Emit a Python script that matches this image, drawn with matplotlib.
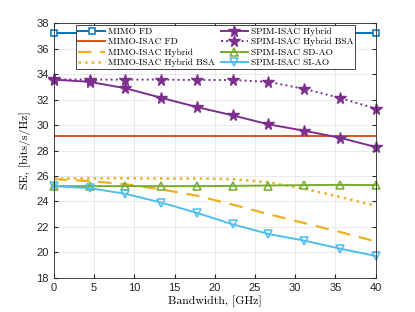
import numpy as np
import matplotlib
matplotlib.use("Agg")
from matplotlib import pyplot as plt

bandwidth = np.linspace(0, 40, 10)

mimo_fd = [37.25] * 10
mimo_isac_fd = [29.15] * 10
mimo_isac_hybrid = [25.75, 25.6, 25.35, 24.95, 24.45, 23.75, 23.0, 22.3, 21.6, 20.85]
mimo_isac_hybrid_bsa = [25.8, 25.82, 25.82, 25.8, 25.8, 25.75, 25.5, 25.0, 24.35, 23.65]
spim_hybrid = [33.58, 33.4, 32.9, 32.15, 31.42, 30.77, 30.06, 29.56, 29.01, 28.28]
spim_hybrid_bsa = [33.6, 33.58, 33.58, 33.58, 33.55, 33.55, 33.4, 32.85, 32.14, 31.3]
spim_sd_ao = [25.2, 25.2, 25.2, 25.2, 25.2, 25.22, 25.25, 25.28, 25.3, 25.28]
spim_si_ao = [25.2, 25.04, 24.6, 23.91, 23.1, 22.2, 21.44, 20.92, 20.29, 19.71]

serif = 'cmr10'

fig = plt.figure(figsize=(4.15, 3.12), dpi=100)
ax = fig.add_axes([0.13, 0.11, 0.775, 0.815])

lw = 1.4
ax.plot(bandwidth, mimo_fd, 's-', color='#0072BD', lw=lw, ms=5, mfc='white', mew=1.1, label='MIMO FD', clip_on=False)
ax.plot(bandwidth, mimo_isac_fd, '-', color='#D95319', lw=lw, label='MIMO-ISAC FD')
ax.plot(bandwidth, mimo_isac_hybrid, '--', color='#EDB120', lw=1.6, dashes=(6, 4), label='MIMO-ISAC Hybrid')
ax.plot(bandwidth, mimo_isac_hybrid_bsa, ':', color='#EDB120', lw=1.8, label='MIMO-ISAC Hybrid BSA')
ax.plot(bandwidth, spim_hybrid, '*-', color='#7E2F8E', lw=lw, ms=8.5, label='SPIM-ISAC Hybrid', clip_on=False)
ax.plot(bandwidth, spim_hybrid_bsa, '*:', color='#7E2F8E', lw=lw, ms=8.5, label='SPIM-ISAC Hybrid BSA', clip_on=False)
ax.plot(bandwidth, spim_sd_ao, '^-', color='#77AC30', lw=lw, ms=6, mfc='none', mew=1.1, label='SPIM-ISAC SD-AO', clip_on=False)
ax.plot(bandwidth, spim_si_ao, 'v-', color='#4DBEEE', lw=lw, ms=6, mfc='none', mew=1.1, label='SPIM-ISAC SI-AO', clip_on=False)

ax.set_xlim(0, 40)
ax.set_ylim(18, 38)
ax.set_xticks(range(0, 41, 5))
ax.set_yticks(range(18, 39, 2))
ax.grid(True, color='#e6e6e6', lw=0.6)
ax.set_axisbelow(True)
ax.tick_params(axis='both', labelsize=8, direction='in', length=3, colors='#262626', top=True, right=True)
for lab in ax.get_xticklabels() + ax.get_yticklabels():
    lab.set_fontfamily('Liberation Sans')
for s in ax.spines.values():
    s.set_color('#262626')
    s.set_linewidth(0.6)

ax.set_xlabel('Bandwidth, [GHz]', fontsize=8.5, fontfamily=serif, labelpad=2)
ax.set_ylabel('SE, [bits/s/Hz]', fontsize=8.5, fontfamily=serif, labelpad=4)

leg = ax.legend(ncol=2, loc='upper center', bbox_to_anchor=(0.503, 0.992),
                prop={'family': serif, 'size': 6.8}, fancybox=False, framealpha=1,
                edgecolor='#262626', handlelength=2.9, borderpad=0.2, labelspacing=0.2,
                columnspacing=0.6, handletextpad=0.3, borderaxespad=0)
leg.get_frame().set_linewidth(0.6)
leg.set_zorder(5)

fig.savefig('out.png', dpi=100)
